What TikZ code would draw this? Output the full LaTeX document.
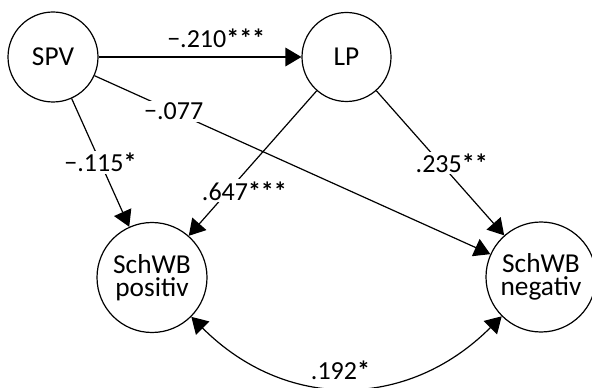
\documentclass[tikz,border=0pt]{standalone}
\usepackage{fontspec}
\setmainfont{Carlito}
\usetikzlibrary{arrows.meta}

\begin{document}
\begin{tikzpicture}[x=0.75pt,y=0.75pt,
  latent/.style={draw,circle,line width=0.9pt,inner sep=0pt,align=center,font=\fontsize{20.5}{17.5}\selectfont},
  path/.style={line width=0.9pt,-{Triangle[length=12pt,width=14pt]}},
  coef/.style={font=\fontsize{19.5}{22}\selectfont,fill=white,inner sep=1.5pt}]
  \useasboundingbox (0,0) rectangle (592,-388);
  % latent variables
  \node[latent,minimum size=67.5pt] (spv) at (53,-57) {SPV};
  \node[latent,minimum size=66.75pt] (lp) at (346.5,-57) {LP};
  \node[latent,minimum size=82.5pt] (swbpos) at (152,-277.5) {SchWB\\positiv};
  \node[latent,minimum size=82.5pt] (swbneg) at (541,-277) {SchWB\\negativ};
  % paths
  \draw[path] (spv) -- node[coef,fill=none,pos=0.58,above=5pt] {−.210\textbf{***}} (lp);
  \draw[path] (spv) -- node[coef,pos=0.5] {−.115\textbf{*}} (swbpos);
  \draw[path] (spv) -- node[coef,pos=0.2] {−.077} (swbneg);
  \draw[path] (lp) -- node[coef,pos=0.69,xshift=12pt] {.647\textbf{***}} (swbpos);
  \draw[path] (lp) -- node[coef,pos=0.5,xshift=8.6pt] {.235\textbf{**}} (swbneg);
  % covariance
  \draw[path,{Triangle[length=12pt,width=14pt]}-{Triangle[length=12pt,width=14pt]}] (swbpos) to[out=-45,in=-135,looseness=1.1]
    node[coef,fill=none,pos=0.5,above=3.5pt,xshift=-4.5pt] {.192\textbf{*}} (swbneg);
\end{tikzpicture}
\end{document}
